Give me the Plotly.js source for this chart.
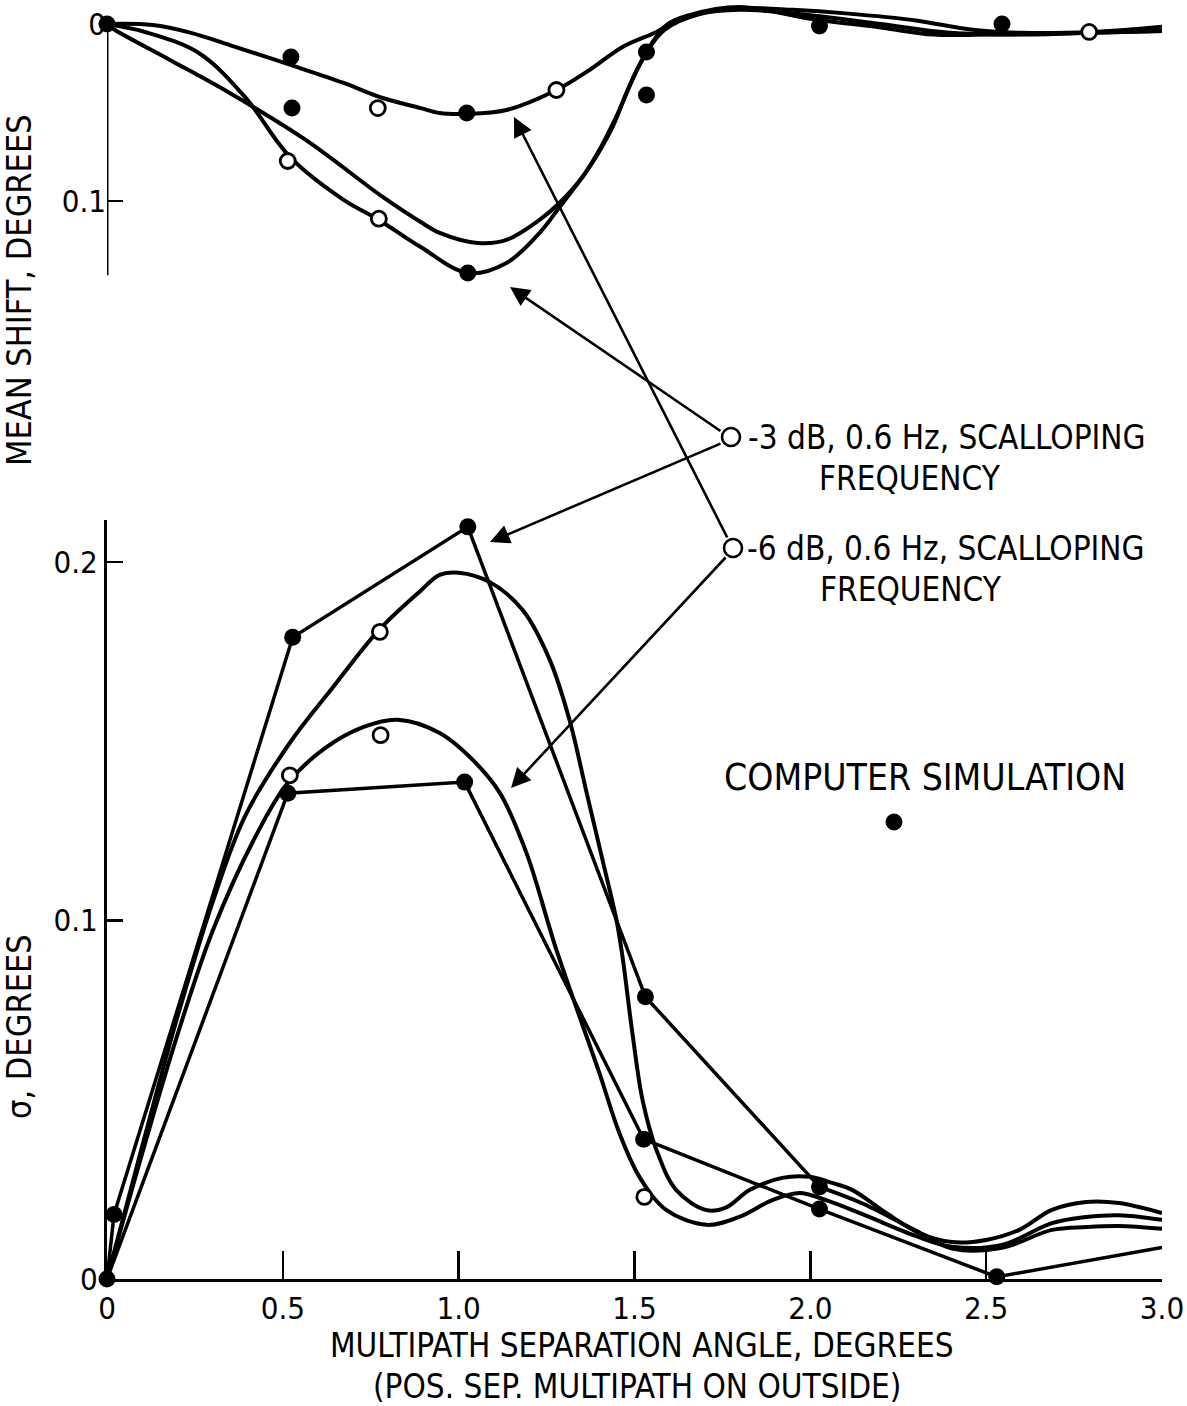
<!DOCTYPE html>
<html>
<head>
<meta charset="utf-8">
<script src="https://cdn.plot.ly/plotly-3.0.1.min.js"></script>
<style>html,body{margin:0;padding:0;background:#fff;}#chart{width:1187px;height:1406px;}</style>
</head>
<body>
<div id="chart"></div>
<script>
// ---------- DATA: top panel (mean shift, degrees) ----------
const topCurve1X = [0, 0.13, 0.239, 0.349, 0.52, 0.673, 0.784, 0.892, 0.946, 1.023, 1.136, 1.278, 1.372, 1.466, 1.5625, 1.608, 1.705, 1.798, 1.95, 2.1, 2.3, 2.45, 2.6, 2.8, 3.0];
const topCurve1Y = [0, 0.0006, 0.005, 0.0119, 0.023, 0.0333, 0.0418, 0.0475, 0.0503, 0.0508, 0.0486, 0.0373, 0.026, 0.013, 0.0045, -0.0006, -0.0068, -0.009, -0.008, -0.006, -0.002, 0.003, 0.005, 0.0045, 0.0015];

const topCurve2X = [0, 0.023, 0.179, 0.349, 0.565, 0.784, 0.892, 0.946, 1.054, 1.136, 1.23, 1.287, 1.352, 1.40, 1.457, 1.514, 1.585, 1.685, 1.80, 2.0, 2.2, 2.4, 2.6, 2.8, 3.0];
const topCurve2Y = [0, 0.0034, 0.0203, 0.039, 0.0655, 0.0977, 0.1119, 0.118, 0.1237, 0.122, 0.1107, 0.101, 0.0864, 0.0712, 0.0486, 0.0232, 0.0034, -0.0056, -0.008, -0.005, 0.0, 0.005, 0.006, 0.005, 0.004];

const topCurve3X = [0, 0.108, 0.261, 0.392, 0.52, 0.673, 0.773, 0.892, 1.026, 1.136, 1.23, 1.287, 1.372, 1.4375, 1.477, 1.534, 1.591, 1.656, 1.798, 2.0, 2.2, 2.35, 2.5, 2.8, 3.0];
const topCurve3Y = [0, 0.0045, 0.0164, 0.0412, 0.0751, 0.0994, 0.1107, 0.126, 0.1407, 0.135, 0.118, 0.1034, 0.0808, 0.0582, 0.039, 0.0158, 0.0006, -0.005, -0.0096, -0.003, 0.002, 0.006, 0.006, 0.005, 0.004];

const topFilledX = [0, 0.523, 0.526, 1.023, 1.026, 1.534, 1.534, 2.026, 2.545];
const topFilledY = [0, 0.0186, 0.0475, 0.0503, 0.1407, 0.0158, 0.0401, 0.0011, 0.0];
const topOpenX = [0.514, 0.770, 0.773, 1.278, 2.793];
const topOpenY = [0.0774, 0.0475, 0.110, 0.0373, 0.0045];

// ---------- DATA: bottom panel (sigma, degrees) ----------
const botCurve1X = [0, 0.1, 0.2, 0.3, 0.392, 0.523, 0.642, 0.773, 0.892, 0.946, 1.0, 1.088, 1.182, 1.259, 1.315, 1.364, 1.409, 1.449, 1.466, 1.494, 1.523, 1.5625, 1.619, 1.705, 1.761, 1.827, 1.92, 1.997, 2.062, 2.12, 2.216, 2.31, 2.403, 2.50, 2.594, 2.687, 2.784, 2.878, 3.0];
const botCurve1Y = [0, 0.037, 0.073, 0.105, 0.129, 0.150, 0.165, 0.181, 0.192, 0.1964, 0.197, 0.1944, 0.1866, 0.1727, 0.156, 0.1356, 0.1169, 0.100, 0.0898, 0.0686, 0.0499, 0.036, 0.0248, 0.0192, 0.020, 0.0248, 0.0282, 0.0285, 0.0268, 0.0248, 0.0184, 0.0128, 0.0103, 0.0109, 0.0137, 0.0193, 0.0215, 0.0212, 0.0184];

const botCurve2X = [0, 0.1, 0.2, 0.3, 0.42, 0.511, 0.619, 0.730, 0.827, 0.946, 1.040, 1.117, 1.193, 1.278, 1.40, 1.457, 1.514, 1.591, 1.705, 1.798, 1.892, 1.969, 2.045, 2.15, 2.3, 2.403, 2.545, 2.687, 2.784, 2.878, 3.0];
const botCurve2Y = [0, 0.035, 0.068, 0.097, 0.123, 0.138, 0.148, 0.154, 0.156, 0.1523, 0.1448, 0.1356, 0.1188, 0.0918, 0.0575, 0.0407, 0.0285, 0.0192, 0.0151, 0.0173, 0.022, 0.024, 0.022, 0.018, 0.012, 0.009, 0.0095, 0.0156, 0.0173, 0.0178, 0.0165];

const botTail3X = [2.026, 2.15, 2.3, 2.403, 2.545, 2.687, 2.784, 2.878, 3.0];
const botTail3Y = [0.0257, 0.021, 0.0135, 0.0085, 0.0087, 0.0137, 0.0145, 0.0148, 0.014];

const simLine1X = [0, 0.02, 0.528, 1.026, 1.531, 2.026];
const simLine1Y = [0, 0.018, 0.179, 0.2098, 0.0787, 0.0257];
const simLine2X = [0, 0.514, 1.017, 1.526, 2.026, 2.53, 3.0];
const simLine2Y = [0, 0.1355, 0.1386, 0.039, 0.0195, 0.0006, 0.0088];

const botFilledX = [0, 0.02, 0.528, 1.026, 0.514, 1.017, 1.531, 1.526, 2.026, 2.026, 2.53];
const botFilledY = [0, 0.018, 0.179, 0.2098, 0.1355, 0.1386, 0.0787, 0.039, 0.0257, 0.0195, 0.0006];
const botOpenX = [0.776, 0.778, 0.52, 1.528];
const botOpenY = [0.1805, 0.1517, 0.1405, 0.0229];

const xTickVals = [0, 0.5, 1.0, 1.5, 2.0, 2.5, 3.0];
const xTickText = ['0', '0.5', '1.0', '1.5', '2.0', '2.5', '3.0'];
const topTickVals = [0, 0.1];
const topTickText = ['0', '0.1'];
const botTickVals = [0, 0.1, 0.2];
const botTickText = ['0', '0.1', '0.2'];

// ---------- STYLE / LAYOUT ----------
const FONT = 'Liberation Sans Narrow, DejaVu Sans Condensed, sans-serif';
const INK = '#000';
const W = 1187, H = 1406;
const M = {l: 107, r: 25, t: 5, b: 127};
const PW = W - M.l - M.r, PH = H - M.t - M.b;
const px = v => (v - M.l) / PW;             // pixel x -> paper
const py = v => (H - M.b - v) / PH;         // pixel y -> paper

const curveLine = {color: INK, width: 4, shape: 'spline', smoothing: 1};
const polyLine = {color: INK, width: 3.5};

function line(x, y, yaxis, style) {
  return {x, y, xaxis: 'x', yaxis, mode: 'lines', line: style, hoverinfo: 'skip', cliponaxis: false, showlegend: false};
}
function pts(x, y, yaxis, open) {
  return {x, y, xaxis: 'x', yaxis, mode: 'markers', cliponaxis: false, showlegend: false, hoverinfo: 'skip',
    marker: open ? {size: 15, color: '#fff', line: {color: INK, width: 2.8}} : {size: 17, color: INK, line: {width: 0}}};
}

const traces = [
  line(topCurve1X, topCurve1Y, 'y', curveLine),
  line(topCurve2X, topCurve2Y, 'y', curveLine),
  line(topCurve3X, topCurve3Y, 'y', curveLine),
  pts(topFilledX, topFilledY, 'y', false),
  pts(topOpenX, topOpenY, 'y', true),
  line(botCurve1X, botCurve1Y, 'y2', curveLine),
  line(botCurve2X, botCurve2Y, 'y2', curveLine),
  line(botTail3X, botTail3Y, 'y2', curveLine),
  line(simLine1X, simLine1Y, 'y2', polyLine),
  line(simLine2X, simLine2Y, 'y2', polyLine),
  pts(botFilledX, botFilledY, 'y2', false),
  pts(botOpenX, botOpenY, 'y2', true)
];

const tickFont = {family: FONT, size: 31, color: INK};
const topBottomPx = 300;
const layout = {
  width: W, height: H,
  margin: M,
  paper_bgcolor: '#fff', plot_bgcolor: 'rgba(0,0,0,0)',
  showlegend: false,
  font: {family: FONT, color: INK},
  xaxis: {
    domain: [0, 1], anchor: 'y2', range: [0, 3.0],
    tickvals: xTickVals, ticktext: xTickText, ticks: 'inside', ticklen: 28, tickwidth: 2.5, tickcolor: INK,
    showline: true, linewidth: 3, linecolor: INK, showgrid: false, zeroline: false,
    tickfont: tickFont, fixedrange: true
  },
  yaxis: {
    domain: [py(topBottomPx), 1], anchor: 'x',
    range: [(topBottomPx - 24) / 1770, (M.t - 24) / 1770],
    tickvals: topTickVals, ticktext: topTickText, ticks: 'inside', ticklen: 16, tickwidth: 2.5, tickcolor: INK,
    showline: false, showgrid: false, zeroline: false, tickfont: tickFont, fixedrange: true
  },
  yaxis2: {
    domain: [0, py(520)], anchor: 'x', range: [0, (1279 - 520) / 3585],
    tickvals: botTickVals, ticktext: botTickText, ticks: 'inside', ticklen: 16, tickwidth: 2.5, tickcolor: INK,
    showline: true, linewidth: 3, linecolor: INK, showgrid: false, zeroline: false, tickfont: tickFont, fixedrange: true
  },
  shapes: [
    {type: 'line', xref: 'x', yref: 'y', x0: 0, x1: 0, y0: 0, y1: 0.142, line: {color: INK, width: 3}},
    {type: 'circle', xref: 'paper', yref: 'paper', xsizemode: 'pixel', ysizemode: 'pixel',
      xanchor: px(731), yanchor: py(437), x0: -9, x1: 9, y0: -9, y1: 9, fillcolor: '#fff', line: {color: INK, width: 2.6}},
    {type: 'circle', xref: 'paper', yref: 'paper', xsizemode: 'pixel', ysizemode: 'pixel',
      xanchor: px(733), yanchor: py(548), x0: -9, x1: 9, y0: -9, y1: 9, fillcolor: '#fff', line: {color: INK, width: 2.6}},
    {type: 'circle', xref: 'paper', yref: 'paper', xsizemode: 'pixel', ysizemode: 'pixel',
      xanchor: px(894), yanchor: py(822), x0: -8, x1: 8, y0: -8, y1: 8, fillcolor: INK, line: {color: INK, width: 1}}
  ],
  annotations: []
};

function txt(text, x, y, size, xanchor, angle) {
  layout.annotations.push({text, xref: 'paper', yref: 'paper', x: px(x), y: py(y), xanchor: xanchor || 'center',
    yanchor: 'middle', showarrow: false, textangle: angle || 0, font: {family: FONT, size, color: INK}});
}
function arrow(tipX, tipY, tailX, tailY) {
  layout.annotations.push({text: '', xref: 'paper', yref: 'paper', x: px(tipX), y: py(tipY),
    ax: tailX - tipX, ay: tailY - tipY, showarrow: true, arrowhead: 2, arrowsize: 1.5, arrowwidth: 2.6,
    arrowcolor: INK, standoff: 0, startstandoff: 0});
}

txt('-3 dB, 0.6 Hz, SCALLOPING', 746, 437, 33, 'left');
txt('FREQUENCY', 910, 478, 33);
txt('-6 dB, 0.6 Hz, SCALLOPING', 745, 548, 33, 'left');
txt('FREQUENCY', 911, 589, 33);
txt('COMPUTER SIMULATION', 925, 777, 37);
txt('MEAN SHIFT, DEGREES', 19, 290, 34, 'center', -90);
txt('σ, DEGREES', 19, 1027, 34, 'center', -90);
txt('MULTIPATH SEPARATION ANGLE, DEGREES', 642, 1345, 33);
txt('(POS. SEP. MULTIPATH ON OUTSIDE)', 637, 1387, 33);

arrow(510, 287, 722, 432);
arrow(490, 542, 722, 443);
arrow(514, 117, 728, 539);
arrow(511, 788, 727, 556);

Plotly.newPlot('chart', traces, layout, {staticPlot: true, displayModeBar: false});
</script>
</body>
</html>
